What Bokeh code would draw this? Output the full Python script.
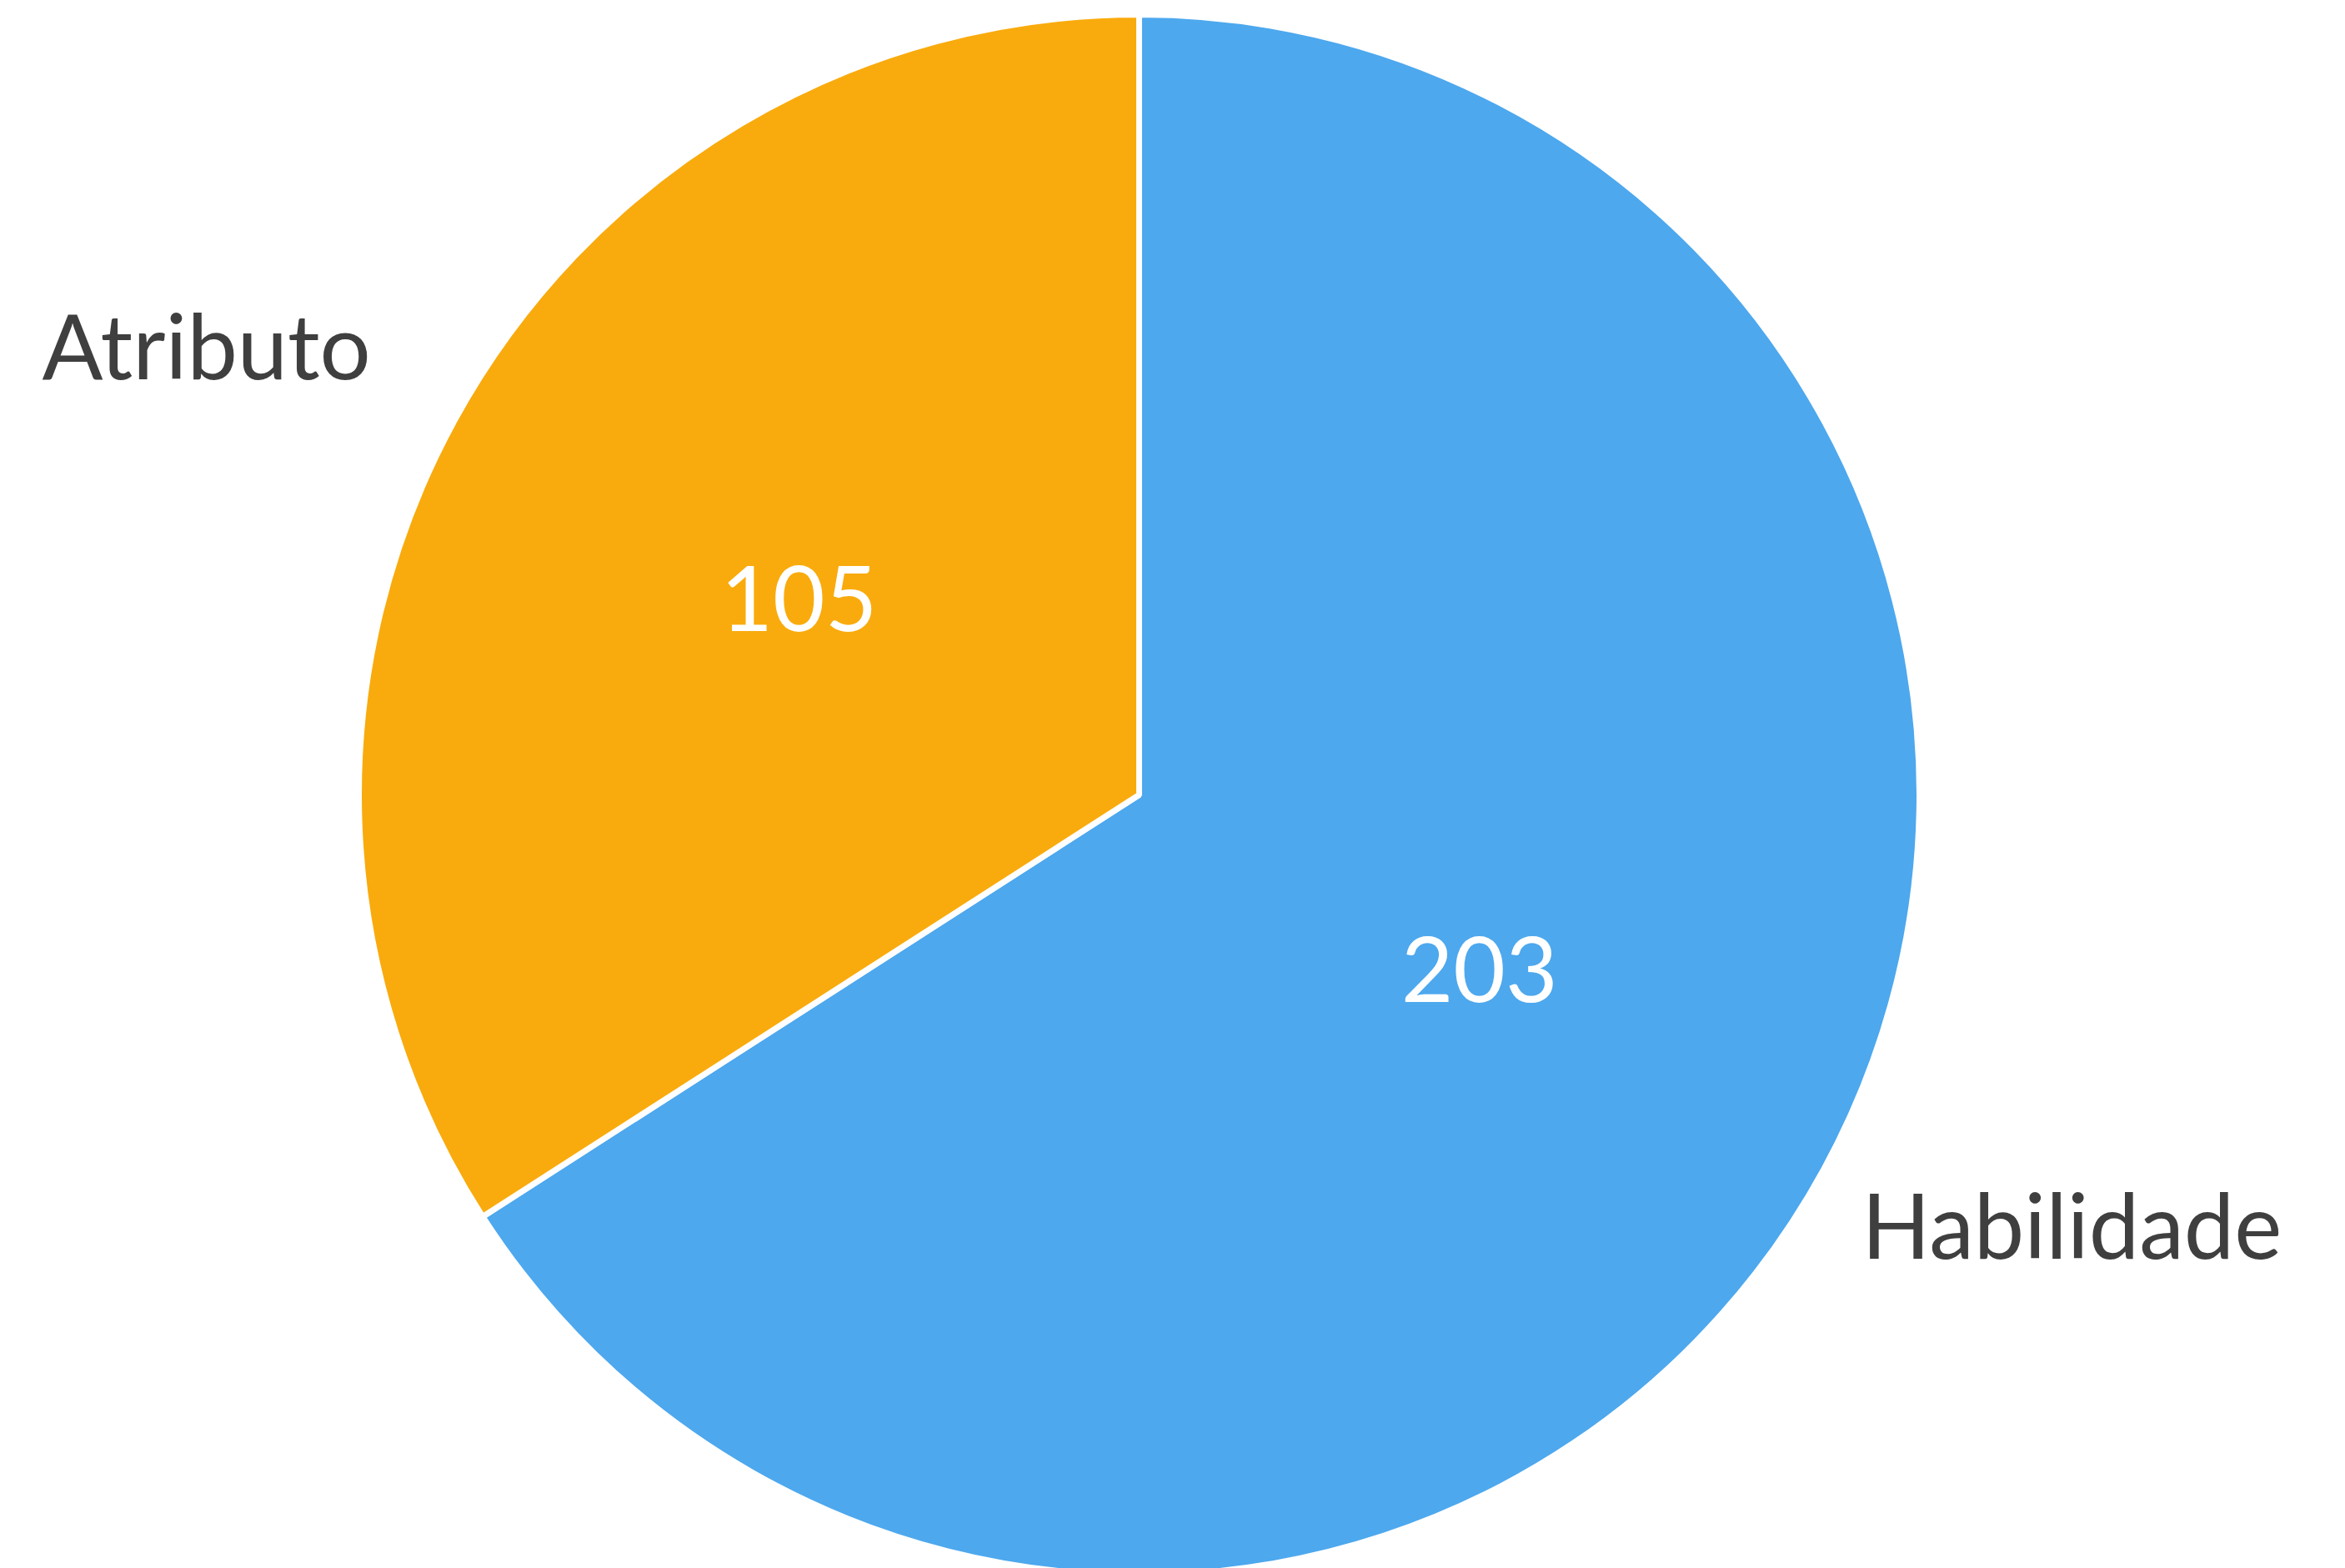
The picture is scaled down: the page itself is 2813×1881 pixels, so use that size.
import math
from bokeh.plotting import figure
from bokeh.models import Range1d, ColumnDataSource
from bokeh.core.properties import value
from bokeh.embed import file_html
from bokeh.resources import INLINE

# ---- data ----
categories = ["Habilidade", "Atributo"]
counts = [203, 105]
colors = ["#4DA8EE", "#F9AB0D"]

# ---- layout (page pixels) ----
W, H = 2813, 1881
CX, CY, R = 1366, 953, 936
RT = 930  # reference radius for label placement
FONT = "Lato"
TEXT_LIFT = 13  # caps-centre correction for "middle" baseline

total = sum(counts)
starts, ends, mids = [], [], []
a = math.pi / 2
for c in counts:
    sweep = 2 * math.pi * c / total
    starts.append(a)
    ends.append(a - sweep)
    mids.append(a - sweep / 2)
    a -= sweep

src = ColumnDataSource(dict(
    cat=categories, val=[str(c) for c in counts], color=colors,
    start=starts, end=ends,
    x=[CX] * len(counts), y=[-CY] * len(counts),
    vx=[CX + 0.5 * RT * math.cos(m) for m in mids],
    vy=[-CY + TEXT_LIFT + 0.5 * RT * math.sin(m) for m in mids],
    lx=[CX + 1.33 * RT * math.cos(m + math.radians(3.4)) for m in mids],
    ly=[-CY + TEXT_LIFT + 1.33 * RT * math.sin(m + math.radians(3.4)) for m in mids],
))

p = figure(width=W, height=H, output_backend="svg", toolbar_location=None,
           x_range=Range1d(0, W), y_range=Range1d(-H, 0),
           x_axis_location=None, y_axis_location=None,
           min_border=0, outline_line_color=None)
p.grid.visible = False
p.background_fill_color = "white"
p.border_fill_color = "white"

p.wedge(x="x", y="y", radius=R, start_angle="start", end_angle="end",
        direction="clock", fill_color="color", line_color="white",
        line_width=7, source=src)

p.text(x="vx", y="vy", text="val", source=src, text_color="white",
       text_font=value(FONT), text_font_size="108px",
       text_align="center", text_baseline="middle")

p.text(x="lx", y="ly", text="cat", source=src, text_color="#3f3f3f",
       text_font=value(FONT), text_font_size="108px",
       text_align="center", text_baseline="middle")

open("out.html", "w").write(file_html(p, INLINE))
